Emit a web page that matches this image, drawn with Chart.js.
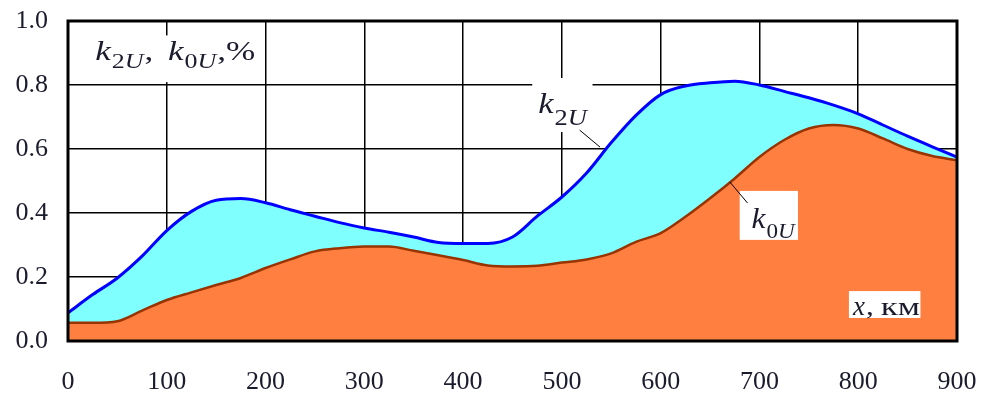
<!DOCTYPE html>
<html>
<head>
<meta charset="utf-8">
<script src="https://cdn.jsdelivr.net/npm/chart.js@4"></script>
<style>
  html, body { margin: 0; padding: 0; background: #fff; }
  #wrap { width: 981px; height: 399px; }
</style>
</head>
<body>
<div id="wrap"><canvas id="chart" width="981" height="399"></canvas></div>
<script>
// расстояние, км
const xKm = [0, 25, 50, 75, 100, 125, 150, 175, 200, 225, 250, 275, 300, 325, 350, 375, 400, 425, 450,
             475, 500, 525, 550, 575, 600, 625, 650, 675, 700, 725, 750, 775, 800, 825, 850, 875, 900];
// k2U, %
const k2U = [0.088, 0.145, 0.197, 0.265, 0.345, 0.405, 0.44, 0.445, 0.432, 0.41, 0.39, 0.37, 0.353, 0.34, 0.325, 0.308, 0.305, 0.305, 0.325,
             0.39, 0.45, 0.525, 0.62, 0.705, 0.77, 0.797, 0.807, 0.812, 0.80, 0.78, 0.76, 0.737, 0.71, 0.675, 0.64, 0.607, 0.575];
// k0U, %
const k0U = [0.057, 0.057, 0.062, 0.095, 0.128, 0.152, 0.175, 0.197, 0.228, 0.255, 0.28, 0.29, 0.295, 0.295, 0.282, 0.268, 0.253, 0.236, 0.233,
             0.235, 0.245, 0.255, 0.274, 0.31, 0.337, 0.388, 0.446, 0.508, 0.575, 0.628, 0.664, 0.675, 0.664, 0.633, 0.60, 0.578, 0.565];
const xTicks = [0, 100, 200, 300, 400, 500, 600, 700, 800, 900];
const yTicks = [0, 0.2, 0.4, 0.6, 0.8, 1.0];

const SERIF = '"Liberation Serif", "Times New Roman", serif';
const TEXT = '#1b1b2e';

function toPoints(ys) {
    return xKm.map((x, i) => ({ x: x, y: ys[i] }));
}

// текст, растянутый по горизонтали; возвращает правый край
function drawText(ctx, text, x, y, font, stretch) {
    ctx.font = font;
    const w = ctx.measureText(text).width * stretch;
    ctx.save();
    ctx.translate(x, y);
    ctx.scale(stretch, 1);
    ctx.fillText(text, 0, 0);
    ctx.restore();
    return x + w;
}

// k с индексом: цифра прямая, U курсивом
function drawK(ctx, x, y, digit, size, sub, dy, stretch) {
    x = drawText(ctx, 'k', x, y, 'italic ' + size + 'px ' + SERIF, stretch) + 1;
    x = drawText(ctx, digit, x, y + dy, sub + 'px ' + SERIF, stretch);
    return drawText(ctx, 'U', x, y + dy, 'italic ' + sub + 'px ' + SERIF, stretch);
}

// без лишних полей от подписей делений
function noPad(s) {
    s.paddingTop = 0; s.paddingBottom = 0; s.paddingLeft = 0; s.paddingRight = 0;
}

const labels = {
    id: 'labels',
    afterDraw(chart) {
        const ctx = chart.ctx;
        const sx = chart.scales.x, sy = chart.scales.y;
        const px = v => sx.getPixelForValue(v);
        const py = v => sy.getPixelForValue(v);
        const a = chart.chartArea;
        ctx.save();

        // белые подложки под подписями
        ctx.fillStyle = '#fff';
        const boxes = [[22, 0.955, 196, 0.809], [470, 0.822, 531, 0.653], [680, 0.469, 739, 0.316], [790.6, 0.156, 863, 0.072]];
        boxes.forEach(b => ctx.fillRect(px(b[0]), py(b[1]), px(b[2]) - px(b[0]), py(b[3]) - py(b[1])));

        // выноски
        ctx.strokeStyle = '#000';
        ctx.lineWidth = 1;
        ctx.beginPath();
        ctx.moveTo(px(518), py(0.659)); ctx.lineTo(px(538.6), py(0.606));
        ctx.moveTo(px(670), py(0.497)); ctx.lineTo(px(688), py(0.431));
        ctx.stroke();

        ctx.fillStyle = TEXT;
        ctx.textBaseline = 'alphabetic';
        ctx.textAlign = 'left';

        // k2U, k0U,%
        const yl = py(0.879);
        let x = drawK(ctx, px(27.5), yl, '2', 27, 20, 8, 1.3);
        drawText(ctx, ',', x + 1, yl, '27px ' + SERIF, 1.3);
        x = drawK(ctx, px(101.2), yl, '0', 27, 20, 8, 1.3);
        drawText(ctx, ',%', x + 1, yl, '27px ' + SERIF, 1.3);

        drawK(ctx, px(476), py(0.713), '2', 30, 23, 12, 1.15);
        drawK(ctx, px(692), py(0.353), '0', 30, 22, 10, 1.05);

        // x, км
        const yx = py(0.081);
        x = drawText(ctx, 'x', px(794.7), yx, 'italic 27px ' + SERIF, 1.0);
        x = drawText(ctx, ',', x + 1, yx, '26px ' + SERIF, 1.2);
        drawText(ctx, 'км', x + 7, yx, '26px ' + SERIF, 1.35);

        // рамка
        ctx.lineWidth = 3;
        ctx.strokeRect(a.left, a.top, a.right - a.left, a.bottom - a.top);
        ctx.restore();
    }
};

new Chart(document.getElementById('chart'), {
    type: 'line',
    data: {
        datasets: [{
            label: 'k0U',
            data: toPoints(k0U),
            borderColor: '#993300',
            borderWidth: 2.5,
            backgroundColor: '#FF7F40',
            fill: 'origin',
            pointRadius: 0,
            cubicInterpolationMode: 'monotone'
        }, {
            label: 'k2U',
            data: toPoints(k2U),
            borderColor: '#0000FF',
            borderWidth: 3,
            backgroundColor: '#80FFFF',
            fill: '-1',
            pointRadius: 0,
            cubicInterpolationMode: 'monotone'
        }]
    },
    options: {
        responsive: false,
        animation: false,
        layout: { padding: { top: 21, right: 24, left: 0, bottom: 0 } },
        plugins: { legend: { display: false }, tooltip: { enabled: false } },
        scales: {
            x: {
                type: 'linear',
                min: 0,
                max: 900,
                z: 1,
                afterFit: s => { s.height = 58; noPad(s); },
                afterBuildTicks: s => { s.ticks = xTicks.map(v => ({ value: v })); },
                grid: { color: '#000', lineWidth: 1.5, drawTicks: false },
                border: { display: false },
                ticks: { color: TEXT, padding: 26, font: { family: SERIF, size: 26 }, maxRotation: 0 }
            },
            y: {
                min: 0,
                max: 1,
                z: 1,
                afterFit: s => { s.width = 68; noPad(s); },
                afterBuildTicks: s => { s.ticks = yTicks.map(v => ({ value: v })); },
                grid: { color: '#000', lineWidth: 1.5, drawTicks: false },
                border: { display: false },
                ticks: { color: TEXT, padding: 20, font: { family: SERIF, size: 26 }, callback: v => v.toFixed(1) }
            }
        }
    },
    plugins: [labels]
});
</script>
</body>
</html>
